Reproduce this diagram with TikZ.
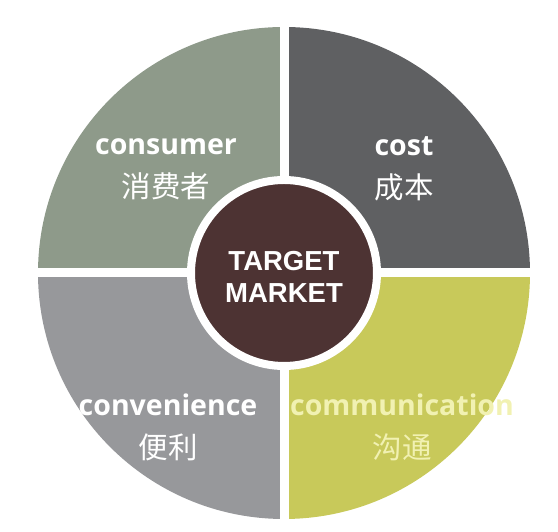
\documentclass[tikz,border=0pt]{standalone}
\usepackage{fontspec}
\setmainfont{Open Sans}
\newfontfamily\cjk{Noto Sans CJK SC}
\newfontfamily\headfont[BoldFont={Liberation Sans Bold}]{Liberation Sans}
\definecolor{sage}{HTML}{8E9A8A}
\definecolor{slate}{HTML}{5F6062}
\definecolor{ash}{HTML}{97989B}
\definecolor{olive}{HTML}{C8C95A}
\definecolor{cocoa}{HTML}{4D3333}
\definecolor{paleyellow}{HTML}{F1F1B2}

\begin{document}
\begin{tikzpicture}[x=1pt,y=1pt,
  fourc/.style={align=center,text=white,
    font=\bfseries\fontsize{28.5}{43}\selectfont},
  hub/.style={circle,fill=cocoa,draw=white,line width=8pt,
    minimum size=186pt,inner sep=0pt},
  hubtext/.style={text=white,align=center,
    font=\headfont\fontsize{27.5}{32}\selectfont\bfseries}]
\useasboundingbox (0,0) rectangle (558,532);
\coordinate (c) at (284,259);
% the four quarters
\fill[sage]  (c) -- ++(-246,0) arc (180:90:246) -- cycle;
\fill[slate] (c) -- ++(0,246) arc (90:0:246) -- cycle;
\fill[ash]   (c) -- ++(-246,0) arc (180:270:246) -- cycle;
\fill[olive] (c) -- ++(0,-246) arc (270:360:246) -- cycle;
% white gaps
\fill[white] ([xshift=-4.5pt,yshift=-250pt]c) rectangle ([xshift=4.5pt,yshift=250pt]c);
\fill[white] ([xshift=-250pt,yshift=-4.5pt]c) rectangle ([xshift=250pt,yshift=4.5pt]c);
% centre
\node[hub] (market) at (c) {};
\node[hubtext] (target) at ([yshift=-4pt]market.center) {\bfseries TARGET\\\bfseries MARKET};
% labels
\node[fourc] (consumer) at (166,363) {consumer\\{\cjk\mdseries\fontsize{29.5}{43}\selectfont 消费者}};
\node[fourc] (cost) at (404,363) {cost\\{\cjk\mdseries\fontsize{29.5}{43}\selectfont 成本}};
\node[fourc] (convenience) at (168,105) {convenience\\{\cjk\mdseries\fontsize{29.5}{43}\selectfont 便利}};
\node[fourc,text=paleyellow] (communication) at (402,105) {communication\\{\cjk\mdseries\fontsize{29.5}{43}\selectfont 沟通}};
\end{tikzpicture}
\end{document}
